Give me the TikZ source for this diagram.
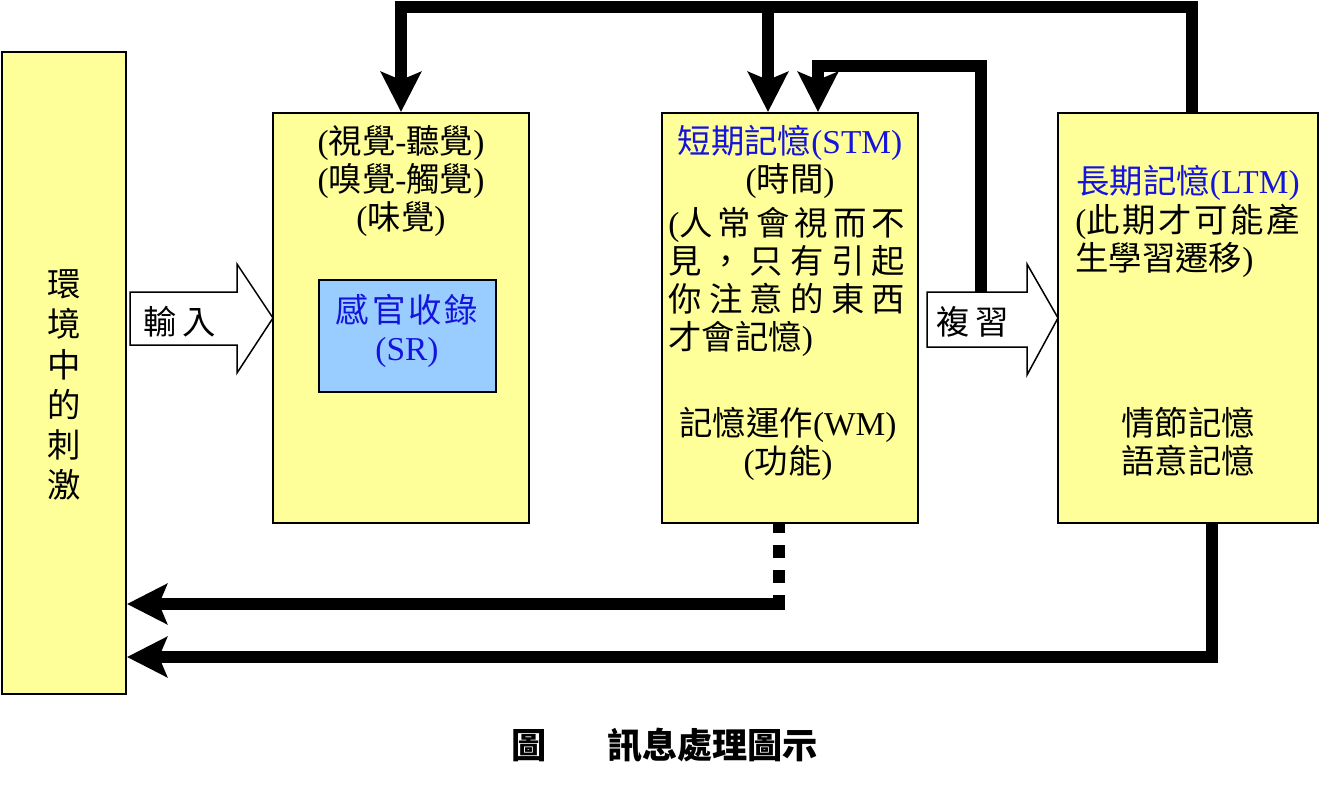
\documentclass[tikz,border=0pt]{standalone}
\usepackage{fontspec}
\setmainfont{Liberation Serif}
\newfontfamily\cjk{Noto Sans CJK TC}
\usetikzlibrary{arrows.meta}

% Han characters switch to the CJK font, everything else stays serif
\XeTeXinterchartokenstate=1
\newXeTeXintercharclass\hanclass
\newcount\hancnt
\hancnt="4E00
\loop
  \XeTeXcharclass\hancnt=\hanclass
  \advance\hancnt by 1
\ifnum\hancnt<"A000 \repeat
\XeTeXcharclass"FF0C=\hanclass
\XeTeXcharclass"3000=\hanclass
\XeTeXinterchartoks 0 \hanclass={\cjk}
\XeTeXinterchartoks 4095 \hanclass={\cjk}
\XeTeXinterchartoks \hanclass 0={\rmfamily}
\XeTeXinterchartoks \hanclass 4095={\rmfamily}

\definecolor{boxyellow}{RGB}{255,255,153}
\definecolor{srblue}{RGB}{153,204,255}
\definecolor{titleblue}{RGB}{20,20,220}

\tikzset{
  stagebox/.style={draw, line width=0.4mm, fill=boxyellow, inner sep=0pt},
  fat/.style={line width=2.4mm},
  fatarr/.style={fat, -{Stealth[length=8mm,width=8mm,inset=1.6mm]}},
  blockarr/.style={draw, line width=0.3mm, fill=white},
  txt/.style={font=\fontsize{19}{21.6}\selectfont, align=center, inner sep=0pt},
}

\begin{document}
\begin{tikzpicture}[x=0.2mm,y=-0.2mm]
\useasboundingbox (0,0) rectangle (1321,785);

% stages
\node[stagebox, minimum width=24.8mm, minimum height=128.4mm] (env) at (64,373) {};
\node[stagebox, minimum width=51.2mm, minimum height=82mm] (sens) at (401,318) {};
\node[stagebox, minimum width=51.2mm, minimum height=82mm] (stm) at (790,318) {};
\node[stagebox, minimum width=52mm, minimum height=82mm] (ltm) at (1188,318) {};
\node[draw, line width=0.4mm, fill=srblue, minimum width=35.4mm, minimum height=22.4mm] (sr) at (407.5,336) {};

% texts
\node[txt, font=\fontsize{19}{22.8}\selectfont] (envtxt) at (64,385) {環\\境\\中\\的\\刺\\激};
\node[txt] (senstxt) at (401,181) {(視覺-聽覺)\\(嗅覺-觸覺)\\(味覺)};
\node[txt, text=titleblue] (srtxt) at (407,331) {感\hspace{0.6mm}官\hspace{0.6mm}收\hspace{0.6mm}錄\\(SR)};
\node[txt] (stmtop) at (790,162) {\textcolor{titleblue}{短期記憶(STM)}\\(時間)};
\node[txt, anchor=west, align=left] (stmnote) at (668,282) {%
  \makebox[47.4mm][s]{(人\hfil 常\hfil 會\hfil 視\hfil 而\hfil 不}\\
  \makebox[47.4mm][s]{見\hfil ，\hfil 只\hfil 有\hfil 引\hfil 起}\\
  \makebox[47.4mm][s]{你\hfil 注\hfil 意\hfil 的\hfil 東\hfil 西}\\
  才會記憶)};
\node[txt] (wmtxt) at (788,444) {記憶運作(WM)\\(功能)};
\node[txt, text=titleblue] (ltmtop) at (1188,183) {長期記憶(LTM)};
\node[txt, anchor=west, align=left] (ltmnote) at (1075,241) {%
  \makebox[45mm][s]{(此\hfil 期\hfil 才\hfil 可\hfil 能\hfil 產}\\
  生學習遷移)};
\node[txt] (ltmkind) at (1188,442) {情節記憶\\語意記憶};

% block arrows
\draw[blockarr] (130,292) -- (237,292) -- (237,264) -- (273,318) -- (237,373) -- (237,345) -- (130,345) -- cycle;
\node[txt] (inp) at (180,322) {輸\hspace{1.2mm}入};
\draw[blockarr] (927,292) -- (1027,292) -- (1027,264) -- (1058,318) -- (1027,375) -- (1027,347) -- (927,347) -- cycle;
\node[txt] (rev) at (973,322) {複\hspace{1.2mm}習};

% feedback lines
\coordinate (top) at (0,7);
\coordinate (loop) at (0,66);
\coordinate (revtop) at (981,292);
\coordinate (ltmout) at ([xshift=0.8mm]ltm.north);
\coordinate (stmin1) at ([xshift=-4.4mm]stm.north);
\coordinate (stmin2) at ([xshift=5.6mm]stm.north);
\draw[fatarr] (ltmout) -- (ltmout |- top) -| (sens.north);
\draw[fatarr] (stmin1 |- top) -- (stmin1);
\draw[fatarr] (revtop) -- (revtop |- loop) -| (stmin2);

\coordinate (stmout) at ([xshift=-2.2mm]stm.south);
\coordinate (ltmout2) at ([xshift=4.8mm]ltm.south);
\coordinate (dsh) at (0,594);
\coordinate (back1) at (0,604);
\coordinate (back2) at (0,657);
\draw[fat, dash pattern=on 2.6mm off 2.4mm, dash phase=0.8mm] (stmout) -- (stmout |- dsh);
\draw[fatarr] ([yshift=-0.2mm]stmout |- dsh) |- (env.east |- back1);
\draw[fatarr] (ltmout2) |- (env.east |- back2);

% caption
\node[txt, font=\fontsize{20}{24}\selectfont\bfseries] (cap) at (665,745) {圖\hspace{12mm}訊息處理圖示};
\end{tikzpicture}
\end{document}
